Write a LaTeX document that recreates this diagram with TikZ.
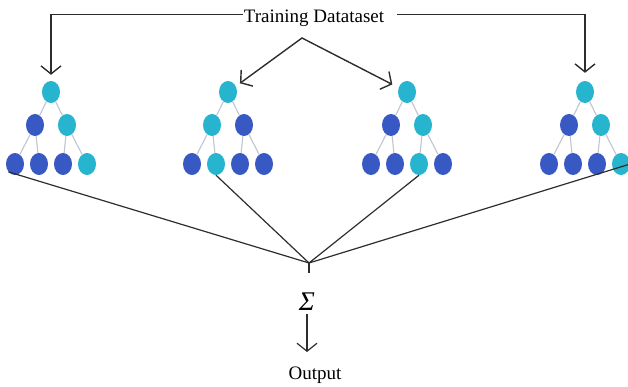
\documentclass[tikz,border=0pt]{standalone}
\usepackage{fontspec}
\setmainfont{Liberation Serif}
\usetikzlibrary{calc}
\usetikzlibrary{arrows.meta,shapes.geometric,positioning}
\definecolor{mycyan}{RGB}{38,180,206}
\definecolor{mydarkblue}{RGB}{56,88,196}
\definecolor{mybranch}{RGB}{190,196,208}
\definecolor{myline}{RGB}{45,45,45}
% Syntax: \ensembletree{name}{root x}{6 colours, level 2 then level 3}
\newcommand{\ensembletree}[8]{%
    \node[treenode,fill=mycyan] (#1) at (#2,92) {};
    \node[treenode,fill=#3] (#1a) at (#2-16,125) {};
    \node[treenode,fill=#4] (#1b) at (#2+16,125) {};
    \node[treenode,fill=#5] (#1aa) at (#2-36,164) {};
    \node[treenode,fill=#6] (#1ab) at (#2-12,164) {};
    \node[treenode,fill=#7] (#1ba) at (#2+12,164) {};
    \node[treenode,fill=#8] (#1bb) at (#2+36,164) {};
    \draw[branch] (#1) -- (#1a) (#1) -- (#1b);
    \draw[branch] (#1a) -- (#1aa) (#1a) -- (#1ab);
    \draw[branch] (#1b) -- (#1ba) (#1b) -- (#1bb);
}
\begin{document}
\begin{tikzpicture}
    [x=1pt,y=-1pt,
     treenode/.style={ellipse,draw=none,inner sep=0pt,minimum width=18pt,minimum height=22pt},
     branch/.style={mybranch,line width=1.1pt},
     flow/.style={myline,line width=1.4pt,-{Straight Barb[length=8pt,width=20pt]}},
     vote/.style={myline,line width=1.2pt},
     label/.style={font=\fontsize{19}{22}\selectfont,inner sep=1pt}]

    \useasboundingbox (0,0) rectangle (628,387);

    \ensembletree{t1}{51}{mydarkblue}{mycyan}{mydarkblue}{mydarkblue}{mydarkblue}{mycyan}
    \ensembletree{t2}{228}{mycyan}{mydarkblue}{mydarkblue}{mycyan}{mydarkblue}{mydarkblue}
    \ensembletree{t3}{407}{mydarkblue}{mycyan}{mydarkblue}{mydarkblue}{mycyan}{mydarkblue}
    \ensembletree{t4}{585}{mydarkblue}{mycyan}{mydarkblue}{mydarkblue}{mydarkblue}{mycyan}

    \node[label,anchor=base] (data) at (314,23) {Training Datataset};
    \coordinate (split) at (302,38);

    \draw[flow,shorten >=6pt] ($(data.west)+(0,-4)$) -| (t1.north);
    \draw[flow,shorten <=12pt,shorten >=8pt] ($(data.east)+(0,-4)$) -| (t4.north);
    \draw[flow,{Straight Barb[length=8pt,width=20pt]}-{Straight Barb[length=8pt,width=20pt]},shorten <=5pt,shorten >=7pt] (t2) -- (split) -- (t3);

    % votes of the trees
    \coordinate (join) at (309,263);
    \draw[vote] (t1aa.south west) -- (join);
    \draw[vote] (t2ab.south) -- (join);
    \draw[vote] (t3ba.south) -- (join);
    \draw[vote] (t4bb.east) -- (join);
    \draw[vote] (join) -- ++(0,10);

    \node[font=\fontsize{27}{30}\selectfont\itshape,inner sep=0pt] (sum) at (307,302) {Σ};
    \node[label,anchor=base] (out) at (315,379) {Output};
    \draw[flow,line width=1.2pt] (sum.south) ++(0,3) coordinate (s) -- (s |- 0,352);
\end{tikzpicture}
\end{document}
